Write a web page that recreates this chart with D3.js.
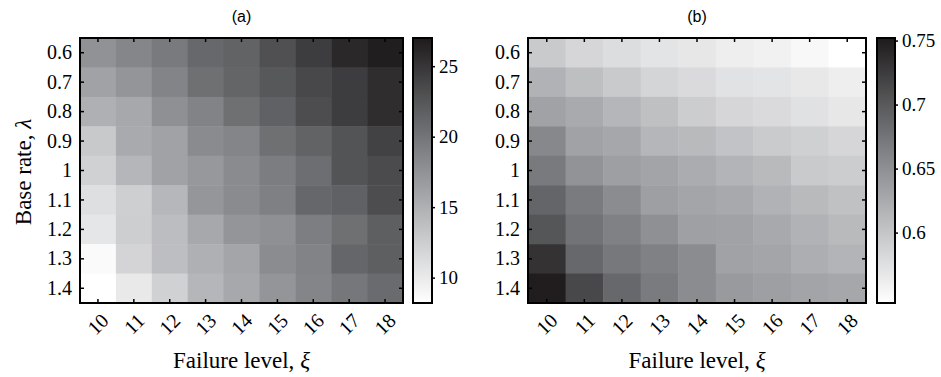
<!DOCTYPE html>
<html>
<head>
<meta charset="utf-8">
<script src="https://cdn.jsdelivr.net/npm/d3@7"></script>
<style>
  body { margin: 0; background: #fff; }
  svg { display: block; }
</style>
</head>
<body>
<svg id="chart" width="941" height="377"></svg>
<script>
const failureLevels = [10, 11, 12, 13, 14, 15, 16, 17, 18];
const baseRates = [0.6, 0.7, 0.8, 0.9, 1, 1.1, 1.2, 1.3, 1.4];

// rows = base rate (top to bottom), columns = failure level
const valuesA = [
    [17.5, 18.5, 19.5, 21.0, 21.5, 23.0, 24.5, 26.0, 26.8],
    [16.2, 17.3, 18.7, 20.4, 21.3, 22.4, 23.6, 24.5, 25.6],
    [15.0, 15.7, 17.7, 18.8, 20.4, 21.6, 23.2, 24.5, 25.6],
    [12.9, 15.5, 16.2, 18.1, 18.6, 20.4, 21.5, 22.7, 24.1],
    [12.2, 14.5, 16.2, 17.0, 18.1, 19.3, 20.5, 22.7, 23.4],
    [11.0, 12.4, 14.4, 17.2, 18.1, 19.0, 21.1, 21.6, 23.2],
    [10.4, 12.5, 13.9, 15.7, 17.3, 17.7, 19.2, 20.4, 21.8],
    [8.6, 11.9, 13.8, 15.0, 15.9, 18.0, 18.8, 21.2, 21.8],
    [8.2, 10.1, 12.2, 14.5, 15.7, 17.3, 18.6, 19.8, 20.8]
];
const valuesB = [
    [0.596, 0.584, 0.578, 0.571, 0.568, 0.561, 0.558, 0.552, 0.545],
    [0.618, 0.606, 0.596, 0.585, 0.580, 0.573, 0.571, 0.567, 0.561],
    [0.633, 0.625, 0.614, 0.605, 0.593, 0.584, 0.580, 0.574, 0.568],
    [0.657, 0.633, 0.628, 0.614, 0.611, 0.602, 0.595, 0.590, 0.584],
    [0.670, 0.647, 0.636, 0.631, 0.624, 0.616, 0.611, 0.596, 0.593],
    [0.689, 0.669, 0.653, 0.636, 0.630, 0.626, 0.618, 0.611, 0.604],
    [0.703, 0.676, 0.663, 0.649, 0.635, 0.633, 0.626, 0.618, 0.611],
    [0.733, 0.686, 0.672, 0.663, 0.653, 0.633, 0.630, 0.622, 0.616],
    [0.750, 0.715, 0.686, 0.669, 0.653, 0.640, 0.636, 0.631, 0.628]
];
const domainA = [8.2, 27.0];
const domainB = [0.545, 0.752];
const colorTicksA = [10, 15, 20, 25];
const colorTicksB = [0.6, 0.65, 0.7, 0.75];

const serif = "'Liberation Serif', 'DejaVu Serif', serif";
const grays = d3.piecewise(d3.interpolateRgb, ["#ffffff", "#c8c9cb", "#909195", "#58595b", "#1f1b1c"]);

const svg = d3.select("#chart");

function panel(opt) {
    const x = d3.scaleBand().domain(failureLevels).range([opt.x0, opt.x1]);
    const y = d3.scaleBand().domain(baseRates).range([opt.y0, opt.y1]);
    const color = d3.scaleSequential(grays).domain(opt.domain);

    const g = svg.append("g");

    const cells = [];
    opt.values.forEach((row, i) => row.forEach((v, j) => {
        cells.push({ lam: baseRates[i], xi: failureLevels[j], v: v });
    }));

    g.selectAll("rect.cell")
        .data(cells)
        .join("rect")
        .attr("class", "cell")
        .attr("x", d => x(d.xi))
        .attr("y", d => y(d.lam))
        .attr("width", x.bandwidth() + 0.5)
        .attr("height", y.bandwidth() + 0.5)
        .attr("fill", d => color(d.v));

    // inward ticks on all sides
    const tl = 4;
    failureLevels.forEach(f => {
        const cx = x(f) + x.bandwidth() / 2;
        g.append("line").attr("x1", cx).attr("x2", cx).attr("y1", opt.y0).attr("y2", opt.y0 + tl)
            .attr("stroke", "#000").attr("stroke-width", 1.5);
        g.append("line").attr("x1", cx).attr("x2", cx).attr("y1", opt.y1).attr("y2", opt.y1 - tl)
            .attr("stroke", "#000").attr("stroke-width", 1.5);
        g.append("text")
            .attr("transform", `translate(${cx + 7},${opt.y1 + 14}) rotate(-45)`)
            .attr("text-anchor", "end")
            .attr("dy", "0.35em")
            .attr("font-family", serif)
            .attr("font-size", 20)
            .text(f);
    });
    baseRates.forEach(b => {
        const cy = y(b) + y.bandwidth() / 2;
        g.append("line").attr("x1", opt.x0).attr("x2", opt.x0 + tl).attr("y1", cy).attr("y2", cy)
            .attr("stroke", "#000").attr("stroke-width", 1.5);
        g.append("line").attr("x1", opt.x1).attr("x2", opt.x1 - tl).attr("y1", cy).attr("y2", cy)
            .attr("stroke", "#000").attr("stroke-width", 1.5);
        g.append("text")
            .attr("x", opt.x0 - 8)
            .attr("y", cy)
            .attr("dy", "0.33em")
            .attr("text-anchor", "end")
            .attr("font-family", serif)
            .attr("font-size", 20)
            .text(b);
    });

    g.append("rect")
        .attr("x", opt.x0).attr("y", opt.y0)
        .attr("width", opt.x1 - opt.x0).attr("height", opt.y1 - opt.y0)
        .attr("fill", "none").attr("stroke", "#000").attr("stroke-width", 2);

    // title
    g.append("text")
        .attr("x", (opt.x0 + opt.x1) / 2)
        .attr("y", 22)
        .attr("text-anchor", "middle")
        .attr("font-family", "'Liberation Sans', Arial, sans-serif")
        .attr("font-size", 16)
        .text(opt.title);

    // x label
    const xl = g.append("text")
        .attr("x", (opt.x0 + opt.x1) / 2)
        .attr("y", 368)
        .attr("text-anchor", "middle")
        .attr("font-family", serif)
        .attr("font-size", 23);
    xl.append("tspan").text("Failure level, ");
    xl.append("tspan").attr("font-style", "italic").text("ξ");

    // colorbar
    const cbId = "grad" + opt.title.replace(/\W/g, "");
    const grad = svg.append("defs").append("linearGradient")
        .attr("id", cbId).attr("x1", 0).attr("x2", 0).attr("y1", 1).attr("y2", 0);
    d3.range(0, 1.0001, 0.05).forEach(t => {
        grad.append("stop").attr("offset", t).attr("stop-color", grays(t));
    });
    g.append("rect")
        .attr("x", opt.cb0).attr("y", opt.y0)
        .attr("width", opt.cb1 - opt.cb0).attr("height", opt.y1 - opt.y0)
        .attr("fill", `url(#${cbId})`)
        .attr("stroke", "#000").attr("stroke-width", 2);

    const cy = d3.scaleLinear().domain(opt.domain).range([opt.y1, opt.y0]);
    const axis = d3.axisRight(cy).tickValues(opt.colorTicks).tickSize(3).tickPadding(4)
        .tickFormat(d => String(d));
    const ag = g.append("g").attr("transform", `translate(${opt.cb1},0)`).call(axis);
    ag.select(".domain").remove();
    ag.selectAll("line").attr("stroke-width", 1.5);
    ag.selectAll("text")
        .attr("font-family", serif)
        .attr("font-size", 19)
        .attr("fill", "#000");
}

panel({ title: "(a)", values: valuesA, domain: domainA, colorTicks: colorTicksA,
        x0: 80, x1: 403, y0: 38, y1: 303, cb0: 413, cb1: 432 });
panel({ title: "(b)", values: valuesB, domain: domainB, colorTicks: colorTicksB,
        x0: 528, x1: 866, y0: 38, y1: 303, cb0: 877, cb1: 895 });

// y label (left panel only)
const yl = svg.append("text")
    .attr("transform", "translate(31,172) rotate(-90)")
    .attr("text-anchor", "middle")
    .attr("font-family", serif)
    .attr("font-size", 23);
yl.append("tspan").text("Base rate, ");
yl.append("tspan").attr("font-style", "italic").text("λ");
</script>
</body>
</html>
